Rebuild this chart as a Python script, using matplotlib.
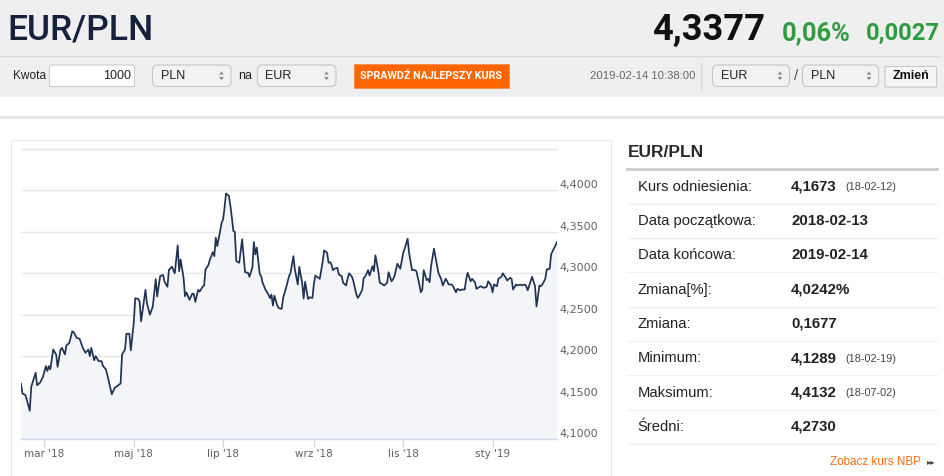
import matplotlib
matplotlib.use('Agg')
import matplotlib.pyplot as plt
import matplotlib.dates as mdates
from matplotlib.patches import Rectangle, FancyBboxPatch, Polygon
import numpy as np
import pandas as pd

# ---------------- data ----------------
dates = [
    "2018-02-13", "2018-02-14", "2018-02-16", "2018-02-17", "2018-02-19", "2018-02-20", "2018-02-23", "2018-02-24",
    "2018-02-26", "2018-02-28", "2018-03-02", "2018-03-03", "2018-03-04", "2018-03-05", "2018-03-07", "2018-03-09",
    "2018-03-10", "2018-03-12", "2018-03-13", "2018-03-15", "2018-03-16", "2018-03-18", "2018-03-20", "2018-03-21",
    "2018-03-23", "2018-03-25", "2018-03-27", "2018-03-29", "2018-03-31", "2018-04-01", "2018-04-02", "2018-04-04",
    "2018-04-05", "2018-04-07", "2018-04-09", "2018-04-10", "2018-04-12", "2018-04-13", "2018-04-15", "2018-04-16",
    "2018-04-18", "2018-04-19", "2018-04-22", "2018-04-23", "2018-04-25", "2018-04-26", "2018-04-28", "2018-04-29",
    "2018-05-01", "2018-05-02", "2018-05-04", "2018-05-05", "2018-05-06", "2018-05-09", "2018-05-10", "2018-05-12",
    "2018-05-14",
    "2018-05-16", "2018-05-17", "2018-05-19", "2018-05-21", "2018-05-22", "2018-05-24", "2018-05-25", "2018-05-27",
    "2018-05-29", "2018-05-31", "2018-06-01", "2018-06-02", "2018-06-04", "2018-06-05", "2018-06-06", "2018-06-08",
    "2018-06-10", "2018-06-11", "2018-06-12", "2018-06-14", "2018-06-15", "2018-06-17", "2018-06-18", "2018-06-19",
    "2018-06-21", "2018-06-22", "2018-06-24", "2018-06-25", "2018-06-26", "2018-06-27", "2018-06-29", "2018-06-30",
    "2018-07-01", "2018-07-02", "2018-07-03", "2018-07-05", "2018-07-06", "2018-07-07", "2018-07-08", "2018-07-09",
    "2018-07-10", "2018-07-12", "2018-07-14", "2018-07-15", "2018-07-16", "2018-07-18", "2018-07-19", "2018-07-21",
    "2018-07-22", "2018-07-23", "2018-07-24", "2018-07-26", "2018-07-27", "2018-07-28", "2018-07-30", "2018-08-01",
    "2018-08-02", "2018-08-03", "2018-08-04", "2018-08-05", "2018-08-07", "2018-08-08", "2018-08-10",
    "2018-08-11", "2018-08-13", "2018-08-15", "2018-08-16", "2018-08-18", "2018-08-19", "2018-08-21", "2018-08-22",
    "2018-08-24", "2018-08-25", "2018-08-26", "2018-08-28", "2018-08-29", "2018-08-31", "2018-09-01", "2018-09-02",
    "2018-09-04", "2018-09-05", "2018-09-07", "2018-09-08", "2018-09-10", "2018-09-11", "2018-09-12", "2018-09-13",
    "2018-09-14", "2018-09-15", "2018-09-17", "2018-09-18", "2018-09-20", "2018-09-21", "2018-09-23", "2018-09-24",
    "2018-09-25", "2018-09-27", "2018-09-28", "2018-09-30", "2018-10-01", "2018-10-02", "2018-10-04", "2018-10-05",
    "2018-10-06", "2018-10-08", "2018-10-09", "2018-10-11", "2018-10-12", "2018-10-13", "2018-10-15", "2018-10-16",
    "2018-10-17", "2018-10-19", "2018-10-21", "2018-10-22", "2018-10-24", "2018-10-25", "2018-10-26", "2018-10-28",
    "2018-10-29", "2018-10-30", "2018-11-01", "2018-11-02", "2018-11-04", "2018-11-05", "2018-11-07",
    "2018-11-09", "2018-11-10", "2018-11-12", "2018-11-13", "2018-11-14", "2018-11-15", "2018-11-17", "2018-11-18",
    "2018-11-19", "2018-11-20", "2018-11-22", "2018-11-24", "2018-11-25", "2018-11-27", "2018-11-28", "2018-11-30",
    "2018-12-01", "2018-12-02", "2018-12-04", "2018-12-05", "2018-12-07", "2018-12-08", "2018-12-10", "2018-12-11",
    "2018-12-13", "2018-12-14", "2018-12-15", "2018-12-17", "2018-12-18", "2018-12-20", "2018-12-21", "2018-12-22",
    "2018-12-24", "2018-12-26", "2018-12-28", "2018-12-29", "2018-12-31", "2019-01-01", "2019-01-02", "2019-01-04",
    "2019-01-05", "2019-01-07", "2019-01-08", "2019-01-10", "2019-01-11", "2019-01-13", "2019-01-14", "2019-01-15",
    "2019-01-17", "2019-01-18", "2019-01-20", "2019-01-21", "2019-01-23", "2019-01-24", "2019-01-25", "2019-01-27",
    "2019-01-28", "2019-01-30", "2019-01-31", "2019-02-02", "2019-02-03", "2019-02-04", "2019-02-06", "2019-02-07",
    "2019-02-09", "2019-02-10", "2019-02-11", "2019-02-13", "2019-02-14",
]
values = [
    4.1666, 4.1550, 4.1530, 4.1470, 4.1340, 4.1630, 4.1800, 4.1650,
    4.1680, 4.1750, 4.1880, 4.1820, 4.1880, 4.1840, 4.2080, 4.2020,
    4.1870, 4.2080, 4.2100, 4.2020, 4.2130, 4.2160, 4.2300, 4.2290,
    4.2220, 4.2210, 4.2110, 4.2040, 4.2080, 4.2000, 4.2100, 4.1950,
    4.2000, 4.1940, 4.1940, 4.1880, 4.1840, 4.1770, 4.1620, 4.1540,
    4.1620, 4.1630, 4.1670, 4.2020, 4.2080, 4.2270, 4.2270, 4.2070,
    4.2400, 4.2700, 4.2690, 4.2660, 4.2420, 4.2800, 4.2640, 4.2500,
    4.2600,
    4.2930, 4.2720, 4.2965, 4.2980, 4.2900, 4.2837, 4.3040, 4.3080,
    4.3000, 4.3337, 4.3025, 4.3167, 4.2946, 4.2723, 4.2770, 4.2680,
    4.2755, 4.2750, 4.2655, 4.2800, 4.2780, 4.2837, 4.2853, 4.3046,
    4.3100, 4.3167, 4.3255, 4.3207, 4.3430, 4.3328, 4.3510, 4.3610,
    4.3650, 4.3793, 4.3963, 4.3933, 4.3813, 4.3670, 4.3510, 4.3500,
    4.3147, 4.3127, 4.3410, 4.3207, 4.3013, 4.3006, 4.2958, 4.3067,
    4.3377, 4.3228, 4.3310, 4.2994, 4.2965, 4.2885, 4.2800, 4.2743,
    4.2700, 4.2743, 4.2610, 4.2730, 4.2610, 4.2580, 4.2570,
    4.2703, 4.2824, 4.2965, 4.3000, 4.3207, 4.3046, 4.2865, 4.3078,
    4.2885, 4.2695, 4.2897, 4.2690, 4.2710, 4.2703, 4.2873, 4.2973,
    4.2946, 4.2933, 4.3140, 4.3276, 4.3248, 4.3127, 4.3135, 4.3107,
    4.3038, 4.3055, 4.3067, 4.2986, 4.2965, 4.2885, 4.2853, 4.2933,
    4.3000, 4.2958, 4.2904, 4.2743, 4.2703, 4.2730, 4.2800, 4.2946,
    4.2958, 4.3038, 4.2973, 4.3086, 4.3025, 4.3216, 4.3025, 4.2885,
    4.2877, 4.2853, 4.2885, 4.3013, 4.2904, 4.2925, 4.2965, 4.3115,
    4.3086, 4.3055, 4.3248, 4.3297, 4.3417, 4.3248, 4.3038,
    4.3038, 4.3025, 4.2865, 4.2771, 4.2800, 4.3038, 4.2917, 4.2933,
    4.2892, 4.3086, 4.3297, 4.3107, 4.3006, 4.2925, 4.2853, 4.2933,
    4.2904, 4.2865, 4.2865, 4.2844, 4.2771, 4.2812, 4.2795, 4.2804,
    4.2804, 4.2933, 4.3006, 4.2904, 4.2933, 4.2892, 4.2812, 4.2824,
    4.2844, 4.2824, 4.2837, 4.2904, 4.2853, 4.2771, 4.2865, 4.2844,
    4.2933, 4.2958, 4.3000, 4.2946, 4.2913, 4.2946, 4.2933, 4.2804,
    4.2865, 4.2853, 4.2865, 4.2853, 4.2865, 4.2844, 4.2795, 4.2904,
    4.2958, 4.2844, 4.2600, 4.2853, 4.2844, 4.2865, 4.2933, 4.3046,
    4.3055, 4.3228, 4.3268, 4.3337, 4.3377,
]
y_ticks = [4.10, 4.15, 4.20, 4.25, 4.30, 4.35, 4.40, 4.45]
y_min, y_max = 4.10, 4.45
x_tick_dates = ["2018-03-01", "2018-05-01", "2018-07-01", "2018-09-01", "2018-11-01", "2019-01-01"]
x_tick_labels = ["mar '18", "maj '18", "lip '18", "wrz '18", "lis '18", "sty '19"]

pair = "EUR/PLN"
last_rate = "4,3377"
change_pct = "0,06%"
change_abs = "0,0027"
timestamp = "2019-02-14 10:38:00"
amount = "1000"

stat_labels = ["Kurs odniesienia:", "Data początkowa:", "Data końcowa:", "Zmiana[%]:",
               "Zmiana:", "Minimum:", "Maksimum:", "Średni:"]
stat_values = ["4,1673", "2018-02-13", "2019-02-14", "4,0242%", "0,1677", "4,1289", "4,4132", "4,2730"]
stat_notes = ["(18-02-12)", "", "", "", "", "(18-02-19)", "(18-07-02)", ""]

# ---------------- figure ----------------
plt.rcParams['font.family'] = ['Liberation Sans', 'DejaVu Sans']
W, H = 945, 476
fig = plt.figure(figsize=(W / 100, H / 100), dpi=100)
fig.patch.set_facecolor('white')
bg = fig.add_axes([0, 0, 1, 1])
bg.set_xlim(0, W)
bg.set_ylim(H, 0)
bg.axis('off')
bg.set_zorder(0)
fig.canvas.draw()
R = fig.canvas.get_renderer()

HEAD = ['Roboto', 'Liberation Sans', 'DejaVu Sans']


def rect(x0, y0, x1, y1, fc, ec='none', lw=0, r=0, z=1):
    if r > 0:
        p = FancyBboxPatch((x0, y0), x1 - x0, y1 - y0,
                           boxstyle=f"round,pad=0,rounding_size={r}",
                           fc=fc, ec=ec, lw=lw, zorder=z)
    else:
        p = Rectangle((x0, y0), x1 - x0, y1 - y0, fc=fc, ec=ec, lw=lw, zorder=z)
    bg.add_patch(p)


def fit(x, y, s, w, maxsize, **kw):
    t = bg.text(x, y, s, fontsize=maxsize, **kw)
    bb = t.get_window_extent(renderer=R)
    t.set_fontsize(maxsize * min(1.0, w / bb.width))
    return t


def select(x0, x1, label, y0=65, y1=86.5):
    rect(x0, y0, x1, y1, '#f2f2f2', ec='#c6c6c6', lw=0.8, r=5, z=2)
    bg.text(x0 + 8, (y0 + y1) / 2 + 0.3, label, fontsize=9, color='#222222',
            va='center', ha='left', zorder=3)
    cx, cy = x1 - 9.5, (y0 + y1) / 2
    bg.add_patch(Polygon([[cx - 2.3, cy - 1.2], [cx + 2.3, cy - 1.2], [cx, cy - 4.4]],
                         closed=True, fc='#8a8a8a', ec='none', zorder=3))
    bg.add_patch(Polygon([[cx - 2.3, cy + 1.2], [cx + 2.3, cy + 1.2], [cx, cy + 4.4]],
                         closed=True, fc='#8a8a8a', ec='none', zorder=3))


# header band
rect(0, 0, W, 97, '#efefef', z=0.5)
bg.plot([0, 940], [55.5, 55.5], color='#d9d9d9', lw=1, zorder=1)
rect(0, 115.5, W, 118.5, '#e8e8e8', z=0.5)

fit(7, 40, pair, 146, 28, family=HEAD, fontweight='medium', color='#16213b',
    va='baseline', ha='left')
fit(652, 40, last_rate, 113, 28, family=HEAD, fontweight='bold', color='#111111',
    va='baseline', ha='left')
fit(782, 40, change_pct, 69, 19.5, family=HEAD, fontweight='bold', color='#2e9c3f',
    va='baseline', ha='left')
fit(866, 40, change_abs, 74, 19.5, family=HEAD, fontweight='bold', color='#2e9c3f',
    va='baseline', ha='left')

# toolbar
ty = 75.8
bg.text(13, ty, "Kwota", fontsize=8.6, color='#222222', va='center', ha='left')
rect(49.5, 65, 134.5, 86.5, 'white', ec='#cccccc', lw=0.8, r=2, z=2)
bg.text(131, ty, amount, fontsize=9, color='#222222', va='center', ha='right', zorder=3)
select(152.5, 231, "PLN")
bg.text(238, ty, "na", fontsize=9, color='#222222', va='center', ha='left')
select(257.5, 336, "EUR")
rect(354, 63.5, 508.5, 87.5, '#ff6600', ec='#ff8c4a', lw=0.6, z=2)
fit(431.2, ty, "SPRAWDŹ NAJLEPSZY KURS", 142, 8, family=HEAD, fontweight='bold',
    color='white', va='center', ha='center', zorder=3)
bg.text(590, ty, timestamp, fontsize=8.1, color='#666666', va='center', ha='left')
bg.plot([700.5, 700.5], [63, 89], color='#d6d6d6', lw=1, zorder=1)
select(712.5, 789.5, "EUR")
bg.text(796.5, ty, "/", fontsize=11, color='#555555', va='center', ha='center')
select(802.5, 878.5, "PLN")
rect(885, 66.5, 936.5, 87, '#f6f6f6', ec='#c8c8c8', lw=0.8, r=1, z=2)
bg.text(910.7, ty + 0.5, "Zmień", fontsize=9, fontweight='bold', color='#111111',
        va='center', ha='center', zorder=3)

# chart box
rect(10.5, 139.5, 611, 490, 'white', ec='#ebebeb', lw=1, z=0.6)

# ---------------- chart ----------------
px0, px1, py_top, py_bot = 21, 557, 149, 439
ax = fig.add_axes([px0 / W, (H - py_bot) / H, (px1 - px0) / W, (py_bot - py_top) / H])
ax.set_zorder(2)
ax.set_facecolor('white')

d = pd.to_datetime(dates)
v = np.array(values)
ax.fill_between(d, v, y_min, color='#f4f5f8', lw=0, zorder=1)
for yt in y_ticks[1:]:
    ax.axhline(yt, color='#e6e6e6', lw=1, zorder=0.5, clip_on=False)
ax.plot(d, v, color='#1f3355', lw=1.25, zorder=3, solid_joinstyle='round')

ax.set_xlim(d[0], d[-1])
ax.set_ylim(y_min, y_max)
for s in ['left', 'top', 'right']:
    ax.spines[s].set_visible(False)
ax.spines['bottom'].set_color('#ccd6eb')
ax.spines['bottom'].set_linewidth(1)
ax.spines['bottom'].set_zorder(4)

ax.set_xticks(pd.to_datetime(x_tick_dates))
ax.set_xticklabels(x_tick_labels, family='DejaVu Sans')
ax.tick_params(axis='x', direction='out', length=6, width=0.9, color='#ccd6eb',
               labelsize=7.5, labelcolor='#606060', pad=1.5)

ax.yaxis.tick_right()
ax.set_yticks(y_ticks)
ylabels = [f"{t:.4f}".replace('.', ',') for t in y_ticks[:-1]] + [""]
ax.set_yticklabels(ylabels, va='bottom', family='DejaVu Sans')
ax.tick_params(axis='y', length=0, pad=2, labelsize=8, labelcolor='#606060')

# ---------------- right panel ----------------
bg.text(628, 152.5, pair, fontsize=12.5, fontweight='bold', color='#2a2a2a',
        va='center', ha='left')
bg.plot([627, 937], [169, 169], color='#cccccc', lw=2, zorder=1)
for i, (lab, val, note) in enumerate(zip(stat_labels, stat_values, stat_notes)):
    yc = 186.8 + i * 34.3
    bg.text(637.5, yc, lab, fontsize=10.6, color='#222222', va='center', ha='left')
    bg.text(791, yc, val, fontsize=10.8, fontweight='bold', color='#222222',
            va='center', ha='left')
    if note:
        bg.text(845, yc + 0.5, note, fontsize=7.8, color='#444444', va='center', ha='left')
    ys = 203.5 + i * 34.35
    bg.plot([627, 937], [ys, ys], color='#f0f0f0', lw=1, zorder=1)

fit(830.5, 462, "Zobacz kurs NBP", 91, 9, color='#ff6a13', va='center', ha='left')
bg.text(935.5, 462, "▸▸", fontsize=6, color='#444444', va='center', ha='right',
        family='DejaVu Sans')

fig.savefig('out.png', dpi=100, facecolor='white')
